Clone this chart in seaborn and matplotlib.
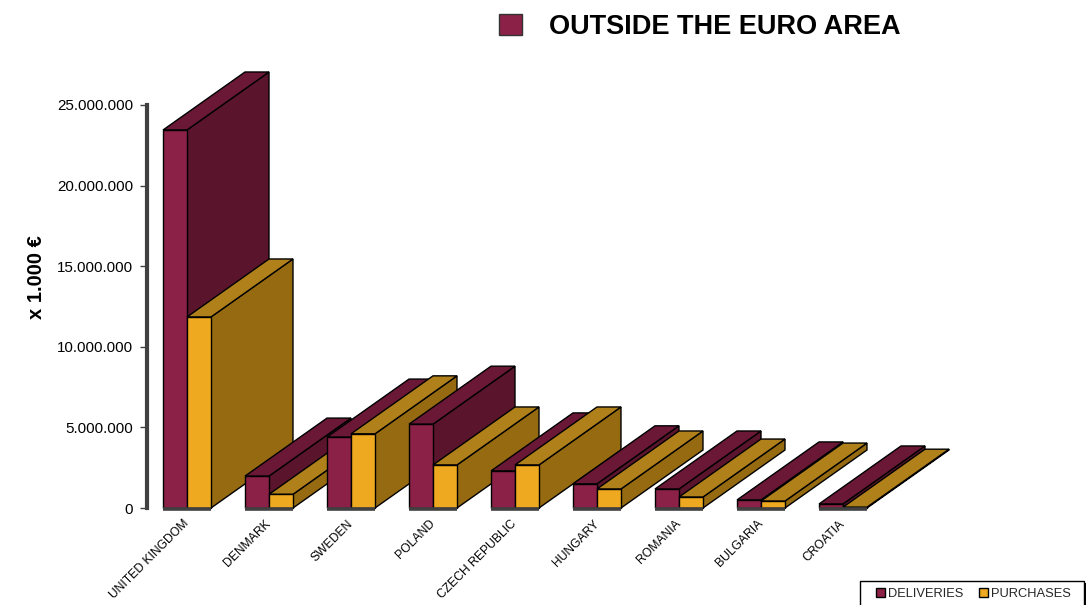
import matplotlib
matplotlib.use("Agg")
import matplotlib.pyplot as plt
from matplotlib.patches import Polygon, Rectangle
from matplotlib.ticker import FuncFormatter
import pandas as pd
import seaborn as sns

countries = ["UNITED KINGDOM", "DENMARK", "SWEDEN", "POLAND", "CZECH REPUBLIC",
             "HUNGARY", "ROMANIA", "BULGARIA", "CROATIA"]
deliveries = [23450000, 1980000, 4400000, 5200000, 2300000, 1500000, 1180000, 500000, 250000]
purchases = [11850000, 850000, 4600000, 2670000, 2670000, 1180000, 680000, 430000, 50000]
y_ticks = [0, 5000000, 10000000, 15000000, 20000000, 25000000]

front_colors = {"DELIVERIES": "#8C2148", "PURCHASES": "#EFA920"}
top_colors = {"DELIVERIES": "#6A1836", "PURCHASES": "#B0801A"}
side_colors = {"DELIVERIES": "#5A152C", "PURCHASES": "#966A10"}

W, H = 1086, 605
# plot area and depth of the fake 3D, in pixels of the reference
LEFT, RIGHT, TOP, BOTTOM = 147, 967, 105, 508
PX_PER_CAT = 82
VALUE_PER_PX = 25000000 / (BOTTOM - TOP)
DEPTH_X = 82 / PX_PER_CAT
DEPTH_Y = 58 * VALUE_PER_PX

sns.set_theme(style="white")
plt.rcParams["font.family"] = ["Liberation Sans", "DejaVu Sans"]

df = pd.DataFrame({
    "country": countries * 2,
    "value": deliveries + purchases,
    "flow": ["DELIVERIES"] * len(countries) + ["PURCHASES"] * len(countries),
})

fig = plt.figure(figsize=(W / 100, H / 100), dpi=100)
ax = fig.add_axes([LEFT / W, 1 - BOTTOM / H, (RIGHT - LEFT) / W, (BOTTOM - TOP) / H])

sns.barplot(data=df, x="country", y="value", hue="flow", palette=front_colors,
            width=0.585, gap=0, saturation=1, edgecolor="black", linewidth=1,
            errorbar=None, ax=ax)

ax.set_xlim(-40 / PX_PER_CAT, (RIGHT - LEFT - 40) / PX_PER_CAT)
ax.set_ylim(0, 25000000)

# side and top faces, built from the bars seaborn drew
for s, (flow, bars) in enumerate(zip(front_colors, ax.containers)):
    for i, bar in enumerate(bars):
        x0, x1 = bar.get_x(), bar.get_x() + bar.get_width()
        h = bar.get_height()
        z = 3 + i * 10 + s * 4
        top = [(x0, h), (x1, h), (x1 + DEPTH_X, h + DEPTH_Y), (x0 + DEPTH_X, h + DEPTH_Y)]
        side = [(x1, 0), (x1, h), (x1 + DEPTH_X, h + DEPTH_Y), (x1 + DEPTH_X, DEPTH_Y)]
        ax.add_patch(Polygon(side, closed=True, facecolor=side_colors[flow], edgecolor="black",
                             linewidth=1, clip_on=False, zorder=z))
        ax.add_patch(Polygon(top, closed=True, facecolor=top_colors[flow], edgecolor="black",
                             linewidth=1, clip_on=False, zorder=z + 1))
        bar.set_zorder(z + 2)
        bar.set_clip_on(False)
        # dark floor line under each group, just below the zero line
        ax.plot([x0, x1], [-1.2 * VALUE_PER_PX] * 2, color="#404040", linewidth=2.6,
                solid_capstyle="butt", clip_on=False, zorder=200)

sns.despine(ax=ax, bottom=True)
ax.spines["left"].set_color("#404040")
ax.spines["left"].set_linewidth(3)
ax.spines["left"].set_bounds(0, 25000000)

ax.set_yticks(y_ticks)
ax.yaxis.set_major_formatter(FuncFormatter(lambda v, _: f"{int(v):,}".replace(",", ".")))
ax.tick_params(axis="y", left=True, length=5, width=1, color="#404040", pad=5,
               labelsize=10.9, labelcolor="black")
ax.set_xticks(range(len(countries)))
ax.set_xticklabels(countries, rotation=45, ha="right", va="center", rotation_mode="anchor",
                   fontsize=8.7, color="black")
ax.tick_params(axis="x", bottom=False, pad=4)
ax.set_xlabel("")
ax.set_ylabel("")

fig.text(36 / W, 1 - 277 / H, "x 1.000 €", rotation=90, ha="center", va="center",
         fontsize=14.5, fontweight="bold", color="black")

# title with its colour key
fig.add_artist(Rectangle((499 / W, 1 - 35 / H), 23 / W, 21 / H, transform=fig.transFigure,
                         facecolor=front_colors["DELIVERIES"], edgecolor="#333333", linewidth=1))
fig.text(549 / W, 1 - 27 / H, "OUTSIDE THE EURO AREA", ha="left", va="center",
         fontsize=19.5, fontweight="bold", color="black")

# legend box runs off the bottom of the picture, with a black shadow on its right
fig.add_artist(Rectangle((862 / W, 0), 224 / W, 22 / H, transform=fig.transFigure,
                         facecolor="black", edgecolor="none", zorder=-2))
fig.add_artist(Rectangle((860 / W, -5 / H), 224 / W, 29 / H, transform=fig.transFigure,
                         facecolor="white", edgecolor="black", linewidth=1, zorder=-1))

handles, labels = ax.get_legend_handles_labels()
ax.legend(handles, labels, loc="center left", bbox_to_anchor=(876 / W, 1 - 594 / H),
          bbox_transform=fig.transFigure, ncol=2, frameon=False, borderaxespad=0, fontsize=9.3,
          handlelength=0.7, handleheight=0.7, handletextpad=0.2, columnspacing=1.25,
          borderpad=0, title=None).set_zorder(300)

fig.savefig("out.png", dpi=100)
